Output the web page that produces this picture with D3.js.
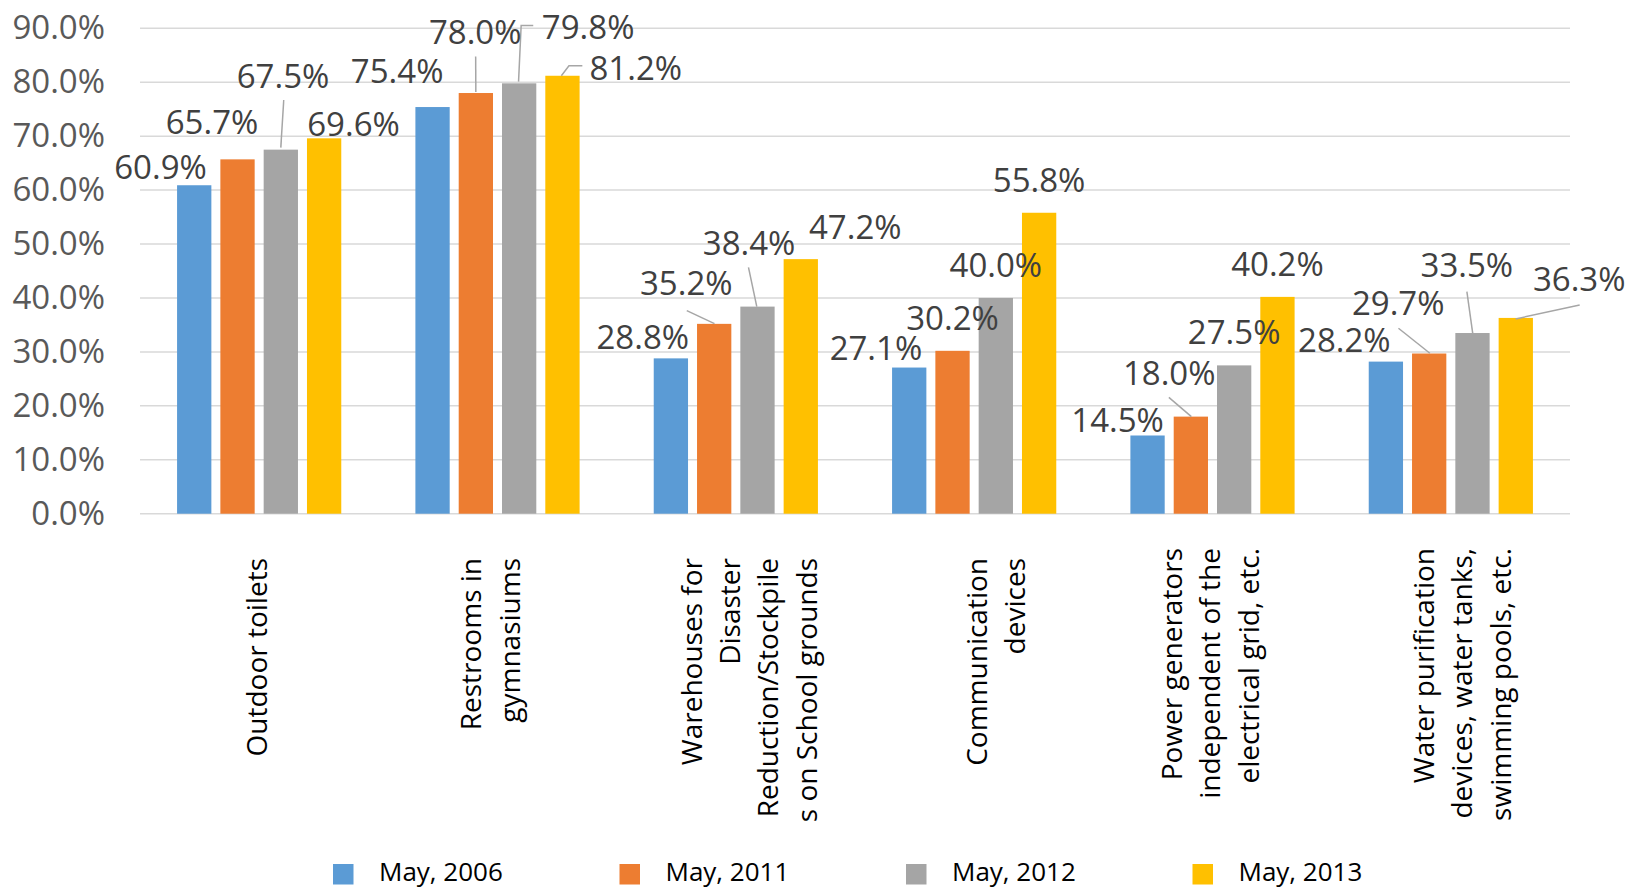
<!DOCTYPE html>
<html>
<head>
<meta charset="utf-8">
<script src="https://cdn.jsdelivr.net/npm/d3@7"></script>
<style>
  body { margin: 0; background: #fff; }
  svg { display: block; }
</style>
</head>
<body>
<div id="chart"></div>
<script>
// data
var categories = ["Outdoor toilets", "Restrooms in gymnasiums",
  "Warehouses for Disaster Reduction/Stockpiles on School grounds",
  "Communication devices", "Power generators independent of the electrical grid, etc.",
  "Water purification devices, water tanks, swimming pools, etc."];
var categoryLines = [
  ["Outdoor toilets"],
  ["Restrooms in", "gymnasiums"],
  ["Warehouses for", "Disaster", "Reduction/Stockpile", "s on School grounds"],
  ["Communication", "devices"],
  ["Power generators", "independent of the", "electrical grid, etc."],
  ["Water purification", "devices, water tanks,", "swimming pools, etc."]
];
var series = ["May, 2006", "May, 2011", "May, 2012", "May, 2013"];
var may2006 = [60.9, 75.4, 28.8, 27.1, 14.5, 28.2];
var may2011 = [65.7, 78.0, 35.2, 30.2, 18.0, 29.7];
var may2012 = [67.5, 79.8, 38.4, 40.0, 27.5, 33.5];
var may2013 = [69.6, 81.2, 47.2, 55.8, 40.2, 36.3];
var yTicks = [0, 10, 20, 30, 40, 50, 60, 70, 80, 90];

var seriesValues = [may2006, may2011, may2012, may2013];
var colors = ["#5B9BD5", "#ED7D31", "#A5A5A5", "#FFC000"];

// manual label placement (offset from bar top centre), like the excel original
var labelNudge = {
  "0-0": [-33.7, -18.6], "0-1": [-25.5, -37.7], "0-2": [2.2, -73.7], "0-3": [29.4, -14.4],
  "1-0": [-35.4, -36.4], "1-1": [-0.6, -61.4], "1-2": [69, -56.1], "1-3": [73.3, -7.6],
  "2-0": [-28.1, -21.7], "2-1": [-27.9, -40.3], "2-2": [-8.4, -63.3], "2-3": [54.5, -32.5],
  "3-0": [-33.3, -19.3],
  "4-0": [-30, -15.5], "4-1": [-21.6, -43.3],
  "5-0": [-41.5, -21.6], "5-1": [-31, -50.3], "5-2": [-5.6, -68.1], "5-3": [63.4, -38.7]
};
var leaders = {
  "0-2": [[2.9, -49.7], [0, -2]],
  "1-1": [[-0.2, -36.4], [0, -1]],
  "1-2": [[14.1, -57.7], [2, -57.7], [-0.6, -1.7]],
  "1-3": [[19.9, -9.9], [6.5, -9.9], [-1.1, 0]],
  "2-1": [[-27.4, -13.2], [0.3, -0.2]],
  "2-2": [[-9, -39.3], [-0.7, 0]],
  "4-1": [[-22, -19.3], [0.5, 0]],
  "5-1": [[-30.7, -25.3], [0.7, -0.3]],
  "5-2": [[-5.6, -41.4], [0.2, 0.2]],
  "5-3": [[63.9, -13], [-0.2, 1]]
};
var catLabelTop = [558, 558, 558, 558, 548, 548];
var catLabelShift = [0, -5, 15.5, 24, 0, 13.5];

var width = 1629, height = 889;
var plotLeft = 140, plotRight = 1570, plotTop = 28.3, plotBottom = 513.7;
var font = "'Open Sans', sans-serif";

var svg = d3.select("#chart").append("svg")
  .attr("width", width)
  .attr("height", height);

var x0 = d3.scaleBand().domain(d3.range(categories.length)).range([plotLeft, plotRight]);
var x1 = d3.scaleBand().domain(d3.range(series.length))
  .range([0, x0.bandwidth()]).paddingInner(0.208).paddingOuter(0.856);
var y = d3.scaleLinear().domain([0, 90]).range([plotBottom, plotTop]);

// gridlines
svg.append("g").selectAll("line")
  .data(yTicks)
  .enter().append("line")
  .attr("x1", plotLeft).attr("x2", plotRight)
  .attr("y1", d => y(d)).attr("y2", d => y(d))
  .attr("stroke", "#D9D9D9")
  .attr("stroke-width", 1.5);

// y axis labels
var yAxis = d3.axisLeft(y).tickValues(yTicks)
  .tickFormat(d => d3.format(".1f")(d) + "%")
  .tickSize(0).tickPadding(0);
var ya = svg.append("g").attr("transform", "translate(105,0)").call(yAxis);
ya.select(".domain").remove();
ya.selectAll("text")
  .attr("font-family", font)
  .attr("font-size", 33)
  .attr("fill", "#595959");

// bars
var rows = [];
categories.forEach(function(c, g) {
  series.forEach(function(s, i) {
    rows.push({g: g, s: i, v: seriesValues[i][g]});
  });
});

svg.append("g").selectAll("rect")
  .data(rows)
  .enter().append("rect")
  .attr("x", d => x0(d.g) + x1(d.s))
  .attr("y", d => y(d.v))
  .attr("width", x1.bandwidth())
  .attr("height", d => y(0) - y(d.v))
  .attr("fill", d => colors[d.s]);

function barCx(d) { return x0(d.g) + x1(d.s) + x1.bandwidth() / 2; }

// leader lines
var line = d3.line();
svg.append("g").selectAll("path")
  .data(rows.filter(d => leaders[d.g + "-" + d.s]))
  .enter().append("path")
  .attr("d", d => line(leaders[d.g + "-" + d.s].map(p => [barCx(d) + p[0], y(d.v) + p[1]])))
  .attr("fill", "none")
  .attr("stroke", "#A6A6A6")
  .attr("stroke-width", 1.5);

// value labels
svg.append("g").selectAll("text")
  .data(rows)
  .enter().append("text")
  .attr("x", d => barCx(d) + (labelNudge[d.g + "-" + d.s] || [0, -33])[0])
  .attr("y", d => y(d.v) + (labelNudge[d.g + "-" + d.s] || [0, -33])[1])
  .attr("dy", "0.36em")
  .attr("text-anchor", "middle")
  .attr("font-family", font)
  .attr("font-size", 33)
  .attr("fill", "#404040")
  .text(d => d3.format(".1f")(d.v) + "%");

// category labels, rotated
var lineStep = 38.3;
var cats = svg.append("g").selectAll("text")
  .data(categoryLines)
  .enter().append("text")
  .attr("transform", (d, i) => "translate(" + (x0(i) + x0.bandwidth() / 2 + 8 + catLabelShift[i] - (d.length - 1) / 2 * lineStep) + "," + catLabelTop[i] + ") rotate(-90)")
  .attr("text-anchor", "end")
  .attr("font-family", font)
  .attr("font-size", 28)
  .attr("fill", "#000");
cats.selectAll("tspan")
  .data(d => d)
  .enter().append("tspan")
  .attr("x", 0)
  .attr("y", (d, i) => i * lineStep)
  .text(d => d);

// legend
var legend = svg.append("g").selectAll("g")
  .data(series)
  .enter().append("g")
  .attr("transform", (d, i) => "translate(" + (333 + i * 286.5) + ",864)");
legend.append("rect")
  .attr("width", 20.5).attr("height", 20.5)
  .attr("fill", (d, i) => colors[i]);
legend.append("text")
  .attr("x", 46)
  .attr("y", 17)
  .attr("font-family", font)
  .attr("font-size", 26)
  .attr("fill", "#000")
  .text(d => d);
</script>
</body>
</html>
